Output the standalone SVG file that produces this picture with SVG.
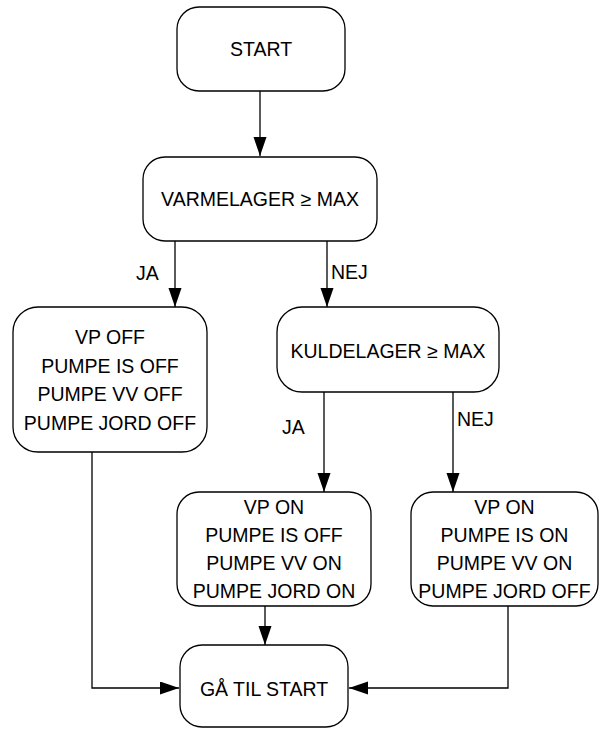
<svg xmlns="http://www.w3.org/2000/svg" width="601" height="729" viewBox="0 0 601 729">
<style>
.box{fill:#fff;stroke:#000;stroke-width:1.3}
.t{font-family:"Liberation Sans",Arial,sans-serif;font-size:19.5px;fill:#000;text-anchor:middle}
.lbl{font-family:"Liberation Sans",Arial,sans-serif;font-size:19.5px;fill:#000}
.c{fill:none;stroke:#000;stroke-width:1.3}
</style>
<defs>
<marker id="ah" markerUnits="userSpaceOnUse" markerWidth="20" markerHeight="14" refX="19" refY="6.5" orient="auto">
<path d="M0,0 L19,6.5 L0,13 z" fill="#000"/>
</marker>
</defs>
<rect width="601" height="729" fill="#fff"/>
<g id="connectors">
<path class="c" d="M260,91 V156" marker-end="url(#ah)"/>
<path class="c" d="M175,241 V307" marker-end="url(#ah)"/>
<path class="c" d="M327,241 V307" marker-end="url(#ah)"/>
<path class="c" d="M324,392 V492" marker-end="url(#ah)"/>
<path class="c" d="M453,392 V492" marker-end="url(#ah)"/>
<path class="c" d="M265,606 V645" marker-end="url(#ah)"/>
<path class="c" d="M92,452 V688 H179" marker-end="url(#ah)"/>
<path class="c" d="M508,606 V688 H349" marker-end="url(#ah)"/>
<text class="lbl" x="136" y="280">JA</text>
<text class="lbl" x="331" y="279">NEJ</text>
<text class="lbl" x="282" y="434">JA</text>
<text class="lbl" x="457" y="426">NEJ</text>
</g>
<g id="start">
<rect class="box" x="177" y="7" width="168" height="84" rx="22"/>
<text class="t" x="261" y="56">START</text>
</g>
<g id="varmelager">
<rect class="box" x="143" y="157" width="234" height="84" rx="22"/>
<text class="t" x="260" y="206">VARMELAGER ≥ MAX</text>
</g>
<g id="vp-off">
<rect class="box" x="13" y="307" width="194" height="145" rx="25"/>
<text class="t" x="110" y="344">VP OFF</text>
<text class="t" x="110" y="372.5">PUMPE IS OFF</text>
<text class="t" x="110" y="401">PUMPE VV OFF</text>
<text class="t" x="110" y="429.5">PUMPE JORD OFF</text>
</g>
<g id="kuldelager">
<rect class="box" x="277" y="307" width="222" height="85" rx="25"/>
<text class="t" x="388" y="358">KULDELAGER ≥ MAX</text>
</g>
<g id="vp-on-1">
<rect class="box" x="177" y="492" width="194" height="114" rx="22"/>
<text class="t" x="274" y="514">VP ON</text>
<text class="t" x="274" y="542">PUMPE IS OFF</text>
<text class="t" x="274" y="570">PUMPE VV ON</text>
<text class="t" x="274" y="598">PUMPE JORD ON</text>
</g>
<g id="vp-on-2">
<rect class="box" x="411" y="492" width="187" height="114" rx="22"/>
<text class="t" x="504.5" y="514">VP ON</text>
<text class="t" x="504.5" y="542">PUMPE IS ON</text>
<text class="t" x="504.5" y="570">PUMPE VV ON</text>
<text class="t" x="504.5" y="598">PUMPE JORD OFF</text>
</g>
<g id="gaa-til-start">
<rect class="box" x="180" y="645" width="168" height="82" rx="22"/>
<text class="t" x="264" y="696">GÅ TIL START</text>
</g>
</svg>
